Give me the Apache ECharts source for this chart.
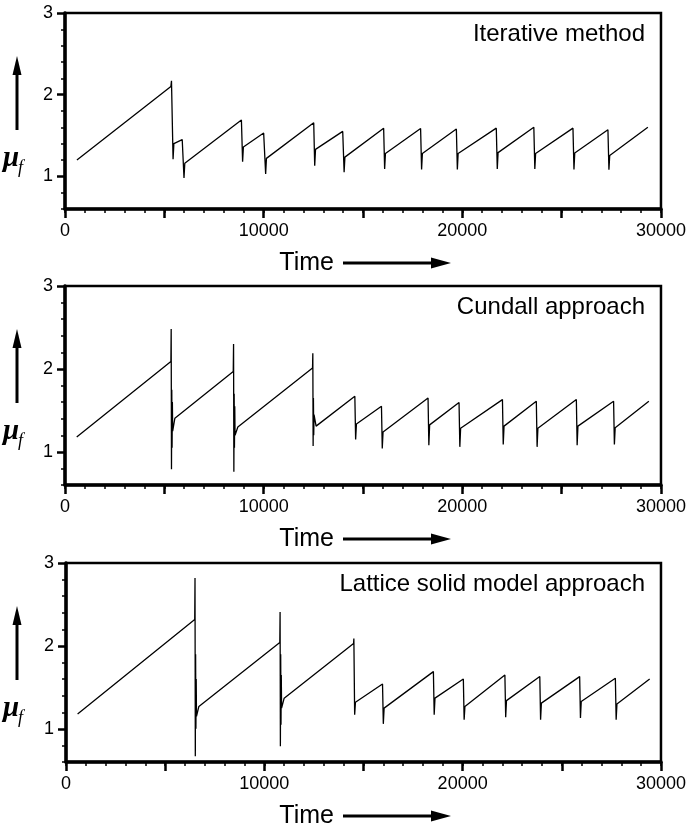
<!DOCTYPE html>
<html>
<head>
<meta charset="utf-8">
<script src="https://cdn.jsdelivr.net/npm/echarts@6/dist/echarts.min.js"></script>
<style>
html,body{margin:0;padding:0;background:#fff;}
#chart{width:689px;height:827px;}
</style>
</head>
<body>
<div id="chart"></div>
<script>
// ---- data ----
const panelTitles = ['Iterative method', 'Cundall approach', 'Lattice solid model approach'];

const iterTime = [600, 5330, 5360, 5440, 5480, 5900, 5990, 6030, 8880, 8940, 8980, 10000, 10100, 10140, 12520, 12570, 12610, 13980, 14050, 14090, 16040, 16090, 16130, 17900, 17950, 17990, 19700, 19750, 19790, 21710, 21760, 21800, 23600, 23650, 23690, 25570, 25620, 25660, 27330, 27380, 27420, 29340];
const iterMu   = [1.20, 2.10, 2.17, 1.21, 1.40, 1.45, 0.98, 1.16, 1.69, 1.18, 1.36, 1.53, 1.03, 1.22, 1.655, 1.13, 1.33, 1.55, 1.05, 1.235, 1.59, 1.09, 1.28, 1.585, 1.085, 1.28, 1.58, 1.085, 1.28, 1.59, 1.09, 1.29, 1.60, 1.09, 1.28, 1.59, 1.085, 1.285, 1.57, 1.08, 1.256, 1.60];

const cundTime = [590, 5330, 5345, 5360, 5375, 5390, 5405, 5420, 5530, 8470, 8485, 8500, 8515, 8530, 8545, 8560, 8700, 12460, 12475, 12490, 12505, 12520, 12535, 12640, 14590, 14630, 14670, 15930, 15970, 16010, 18275, 18315, 18355, 19835, 19875, 19915, 22020, 22060, 22100, 23725, 23765, 23805, 25740, 25780, 25820, 27615, 27655, 27695, 29390];
const cundMu   = [1.18, 2.09, 2.48, 0.79, 1.75, 1.05, 1.60, 1.25, 1.405, 1.97, 2.30, 0.76, 1.70, 1.05, 1.55, 1.20, 1.30, 2.01, 2.19, 1.07, 1.65, 1.20, 1.45, 1.31, 1.67, 1.15, 1.335, 1.55, 1.04, 1.24, 1.65, 1.08, 1.325, 1.595, 1.06, 1.285, 1.63, 1.09, 1.31, 1.61, 1.06, 1.285, 1.63, 1.08, 1.31, 1.61, 1.09, 1.29, 1.61];

const latTime = [585, 6490, 6505, 6520, 6535, 6550, 6565, 6580, 6700, 10780, 10795, 10810, 10825, 10840, 10855, 10870, 11000, 14500, 14515, 14555, 14595, 15960, 16000, 16040, 18525, 18565, 18605, 20035, 20075, 20115, 22130, 22170, 22210, 23890, 23930, 23970, 25900, 25940, 25980, 27700, 27740, 27780, 29430];
const latMu   = [1.18, 2.32, 2.82, 0.67, 1.90, 1.00, 1.60, 1.15, 1.27, 2.04, 2.41, 0.79, 1.90, 1.05, 1.65, 1.25, 1.37, 2.03, 2.09, 1.17, 1.32, 1.54, 1.06, 1.25, 1.69, 1.17, 1.37, 1.60, 1.11, 1.27, 1.65, 1.14, 1.34, 1.63, 1.11, 1.31, 1.63, 1.13, 1.33, 1.61, 1.11, 1.30, 1.60];

const xLabelTicks = [0, 10000, 20000, 30000];
const xMajorTicks = [0, 5000, 10000, 15000, 20000, 25000, 30000];
const yLabelTicks = [1, 2, 3];
const yMinorTicks = [0.6, 0.8, 1.2, 1.4, 1.6, 1.8, 2.2, 2.4, 2.6, 2.8];
const xRange = [0, 30000];
const yRange = [0.6, 3];

// ---- layout ----
const grids = [
  {left: 65, top: 13, width: 596, height: 196},
  {left: 65, top: 286, width: 596, height: 199},
  {left: 66, top: 563, width: 597, height: 199}
];
const FONT = '"Liberation Sans", Arial, Helvetica, sans-serif';

const seriesData = [
  iterTime.map((t, i) => [t, iterMu[i]]),
  cundTime.map((t, i) => [t, cundMu[i]]),
  latTime.map((t, i) => [t, latMu[i]])
];

const option = {
  backgroundColor: '#fff',
  animation: false,
  grid: grids.map(g => Object.assign({show: true, borderColor: '#000', borderWidth: 2.5, backgroundColor: 'transparent'}, g)),
  xAxis: [],
  yAxis: [],
  series: [],
  graphic: []
};

grids.forEach((g, i) => {
  // main x axis
  option.xAxis.push({
    gridIndex: i, type: 'value', position: 'bottom', min: xRange[0], max: xRange[1], interval: 1000,
    axisLine: {show: true, onZero: false, lineStyle: {color: '#000', width: 3.5}},
    axisTick: {show: true, length: 4, lineStyle: {color: '#000', width: 1.5}},
    axisLabel: {show: true, customValues: xLabelTicks, formatter: v => String(v), color: '#000', fontSize: 18, fontFamily: FONT, margin: 13},
    splitLine: {show: false}
  });
  // major x ticks
  option.xAxis.push({
    gridIndex: i, type: 'value', position: 'bottom', min: xRange[0], max: xRange[1],
    axisLine: {show: false, onZero: false},
    axisTick: {show: true, customValues: xMajorTicks, length: 9, lineStyle: {color: '#000', width: 2.5}},
    axisLabel: {show: false},
    splitLine: {show: false}
  });
  // main y axis
  option.yAxis.push({
    gridIndex: i, type: 'value', position: 'left', min: yRange[0], max: yRange[1],
    axisLine: {show: true, onZero: false, lineStyle: {color: '#000', width: 3.5}},
    axisTick: {show: true, customValues: yLabelTicks, length: 8, lineStyle: {color: '#000', width: 2.5}},
    axisLabel: {show: true, customValues: yLabelTicks, formatter: v => String(v), color: '#000', fontSize: 18, fontFamily: FONT, margin: 12},
    splitLine: {show: false}
  });
  // minor y ticks
  option.yAxis.push({
    gridIndex: i, type: 'value', position: 'left', min: yRange[0], max: yRange[1],
    axisLine: {show: false, onZero: false},
    axisTick: {show: true, customValues: yMinorTicks, length: 4, lineStyle: {color: '#000', width: 1.5}},
    axisLabel: {show: false},
    splitLine: {show: false}
  });

  option.series.push({
    type: 'line', xAxisIndex: i * 2, yAxisIndex: i * 2,
    data: seriesData[i], showSymbol: false, symbol: 'none',
    lineStyle: {color: '#000', width: 1.3}, z: 3
  });

  const top = g.top, bottom = g.top + g.height;
  // panel title
  option.graphic.push({
    type: 'text', x: 645, y: top + 33,
    style: {text: panelTitles[i], fill: '#000', font: '24px ' + FONT, textAlign: 'right', textVerticalAlign: 'bottom'}
  });
  // Time label and arrow
  option.graphic.push({
    type: 'text', x: 334, y: bottom + 54,
    style: {text: 'Time', fill: '#000', font: '25px ' + FONT, textAlign: 'right', textVerticalAlign: 'middle'}
  });
  option.graphic.push({
    type: 'line', shape: {x1: 343, y1: bottom + 54, x2: 435, y2: bottom + 54},
    style: {stroke: '#000', lineWidth: 3}
  });
  option.graphic.push({
    type: 'polygon', shape: {points: [[431, bottom + 48.5], [451, bottom + 54], [431, bottom + 59.5]]},
    style: {fill: '#000'}
  });
  // vertical arrow and mu_f
  option.graphic.push({
    type: 'line', shape: {x1: 17, y1: top + 117, x2: 17, y2: top + 58},
    style: {stroke: '#000', lineWidth: 3}
  });
  option.graphic.push({
    type: 'polygon', shape: {points: [[12.5, top + 62], [17, top + 43], [21.5, top + 62]]},
    style: {fill: '#000'}
  });
  option.graphic.push({
    type: 'text', x: 3, y: top + 146,
    style: {text: 'μ', fill: '#000', font: 'italic bold 29px "Liberation Serif", "Times New Roman", serif', textAlign: 'left', textVerticalAlign: 'middle'}
  });
  option.graphic.push({
    type: 'text', x: 18, y: top + 155,
    style: {text: 'f', fill: '#000', font: 'italic 18px "Liberation Serif", "Times New Roman", serif', textAlign: 'left', textVerticalAlign: 'middle'}
  });
});

const chart = echarts.init(document.getElementById('chart'), null, {renderer: 'canvas', width: 689, height: 827});
chart.setOption(option);
</script>
</body>
</html>
